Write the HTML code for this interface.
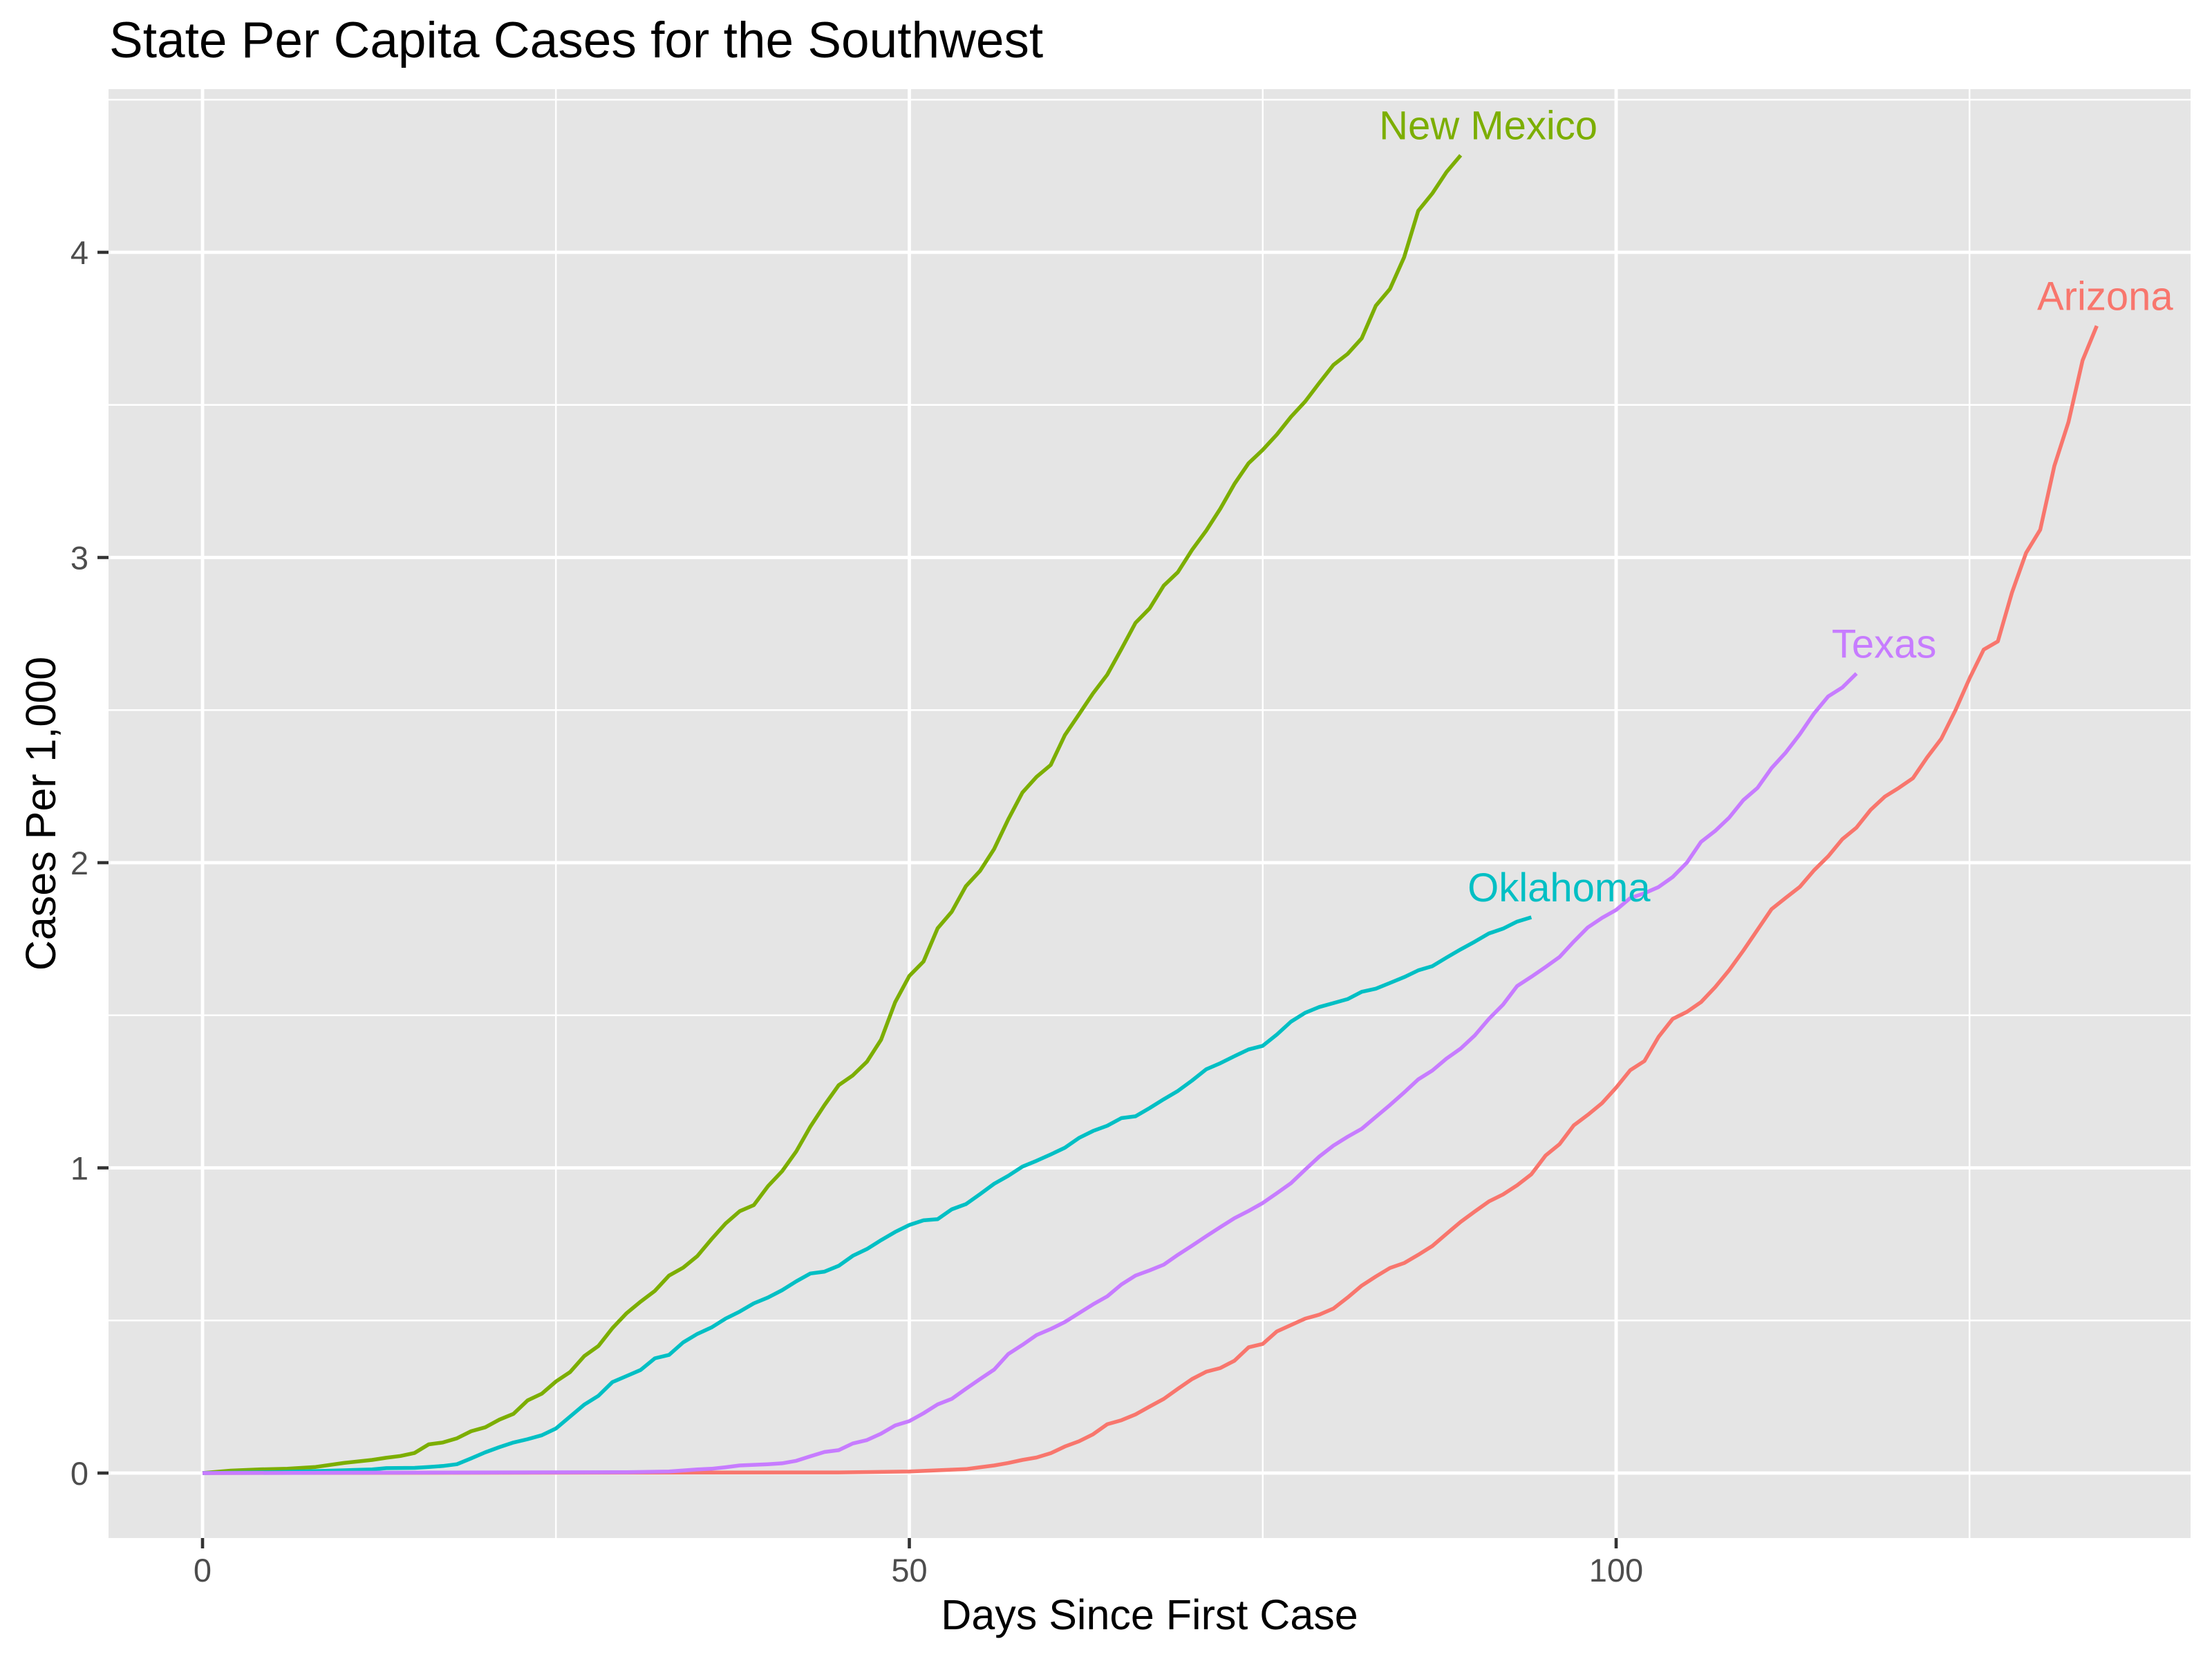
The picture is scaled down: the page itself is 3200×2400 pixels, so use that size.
<!DOCTYPE html>
<html>
<head>
<meta charset="utf-8">
<style>
  html, body { margin: 0; padding: 0; background: #ffffff; }
  body { width: 3200px; height: 2400px; overflow: hidden; }
  svg { display: block; font-family: "Liberation Sans", Arial, sans-serif; }
</style>
</head>
<body>
<svg id="chart" width="3200" height="2400" viewBox="0 0 3200 2400" xmlns="http://www.w3.org/2000/svg">
  <rect x="0" y="0" width="3200" height="2400" fill="#ffffff"/>
  <text x="158" y="83" font-size="73" fill="#000000">State Per Capita Cases for the Southwest</text>
  <rect x="157" y="129" width="3012" height="2096" fill="#e5e5e5"/>
  <g id="grid"></g>
  <g id="series"></g>
  <g id="labels"></g>
  <g id="axes"></g>
  <text x="1663" y="2357" font-size="61" text-anchor="middle" fill="#000000">Days Since First Case</text>
  <text x="0" y="0" font-size="61" text-anchor="middle" fill="#000000" transform="translate(80,1177) rotate(-90)">Cases Per 1,000</text>
</svg>
<script>
// ---- data ----
const xTicks = [0, 50, 100];
const xMinorTicks = [25, 75, 125];
const yTicks = [0, 1, 2, 3, 4];
const yMinorTicks = [0.5, 1.5, 2.5, 3.5, 4.5];
const seriesNames = ["Arizona", "New Mexico", "Oklahoma", "Texas"];

const azDays = [0,45,50,52,54,55,56,57,58,59,60,61,62,63,64,65,66,67,68,69,70,71,72,73,74,75,76,77,78,79,80,81,82,83,84,85,86,87,88,89,90,91,92,93,94,95,96,97,98,99,100,101,102,103,104,105,106,107,108,109,110,111,112,113,114,115,116,117,118,119,120,121,122,123,124,125,126,127,128,129,130,131,132,133,134];
const azVals = [0,0.002,0.005,0.009,0.013,0.019,0.025,0.033,0.043,0.051,0.065,0.087,0.104,0.127,0.16,0.173,0.192,0.218,0.243,0.276,0.308,0.332,0.344,0.368,0.412,0.423,0.464,0.485,0.506,0.519,0.539,0.575,0.614,0.644,0.672,0.688,0.715,0.744,0.784,0.823,0.857,0.89,0.913,0.943,0.979,1.04,1.078,1.139,1.174,1.212,1.263,1.32,1.35,1.429,1.488,1.511,1.543,1.592,1.648,1.712,1.78,1.848,1.885,1.921,1.975,2.021,2.077,2.115,2.173,2.216,2.245,2.277,2.345,2.406,2.499,2.604,2.698,2.725,2.885,3.015,3.091,3.30,3.444,3.646,3.759];

const nmDays = [0,2,4,6,8,10,12,13,14,15,16,17,18,19,20,21,22,23,24,25,26,27,28,29,30,31,32,33,34,35,36,37,38,39,40,41,42,43,44,45,46,47,48,49,50,51,52,53,54,55,56,57,58,59,60,61,62,63,64,65,66,67,68,69,70,71,72,73,74,75,76,77,78,79,80,81,82,83,84,85,86,87,88,89];
const nmVals = [0,0.008,0.012,0.014,0.02,0.033,0.043,0.05,0.056,0.066,0.094,0.10,0.114,0.137,0.15,0.175,0.194,0.238,0.26,0.30,0.331,0.383,0.416,0.475,0.524,0.562,0.597,0.647,0.673,0.711,0.766,0.818,0.858,0.878,0.94,0.989,1.054,1.135,1.206,1.271,1.303,1.348,1.42,1.543,1.629,1.676,1.785,1.839,1.923,1.973,2.045,2.142,2.23,2.281,2.32,2.418,2.486,2.555,2.616,2.70,2.786,2.833,2.908,2.952,3.025,3.088,3.16,3.241,3.309,3.353,3.403,3.461,3.511,3.572,3.631,3.667,3.718,3.825,3.88,3.984,4.136,4.193,4.263,4.318];

const okDays = [0,5,10,12,13,15,16,17,18,19,20,21,22,23,24,25,26,27,28,29,30,31,32,33,34,35,36,37,38,39,40,41,42,43,44,45,46,47,48,49,50,51,52,53,54,55,56,57,58,59,60,61,62,63,64,65,66,67,68,69,70,71,72,73,74,75,76,77,78,79,80,81,82,83,84,85,86,87,88,89,90,91,92,93,94];
const okVals = [0,0.003,0.009,0.012,0.016,0.017,0.02,0.023,0.029,0.048,0.068,0.085,0.10,0.111,0.124,0.146,0.185,0.224,0.253,0.298,0.318,0.338,0.376,0.387,0.428,0.456,0.477,0.506,0.529,0.556,0.575,0.599,0.628,0.654,0.66,0.679,0.712,0.734,0.763,0.79,0.813,0.828,0.832,0.864,0.881,0.914,0.948,0.974,1.004,1.023,1.044,1.066,1.098,1.121,1.138,1.163,1.169,1.196,1.225,1.252,1.286,1.323,1.343,1.366,1.388,1.40,1.437,1.479,1.508,1.527,1.54,1.553,1.577,1.587,1.606,1.625,1.647,1.661,1.689,1.716,1.741,1.768,1.784,1.807,1.821];

const txDays = [0,30,33,35,36,37,38,40,41,42,43,44,45,46,47,48,49,50,51,52,53,54,55,56,57,58,59,60,61,62,63,64,65,66,67,68,69,70,71,72,73,74,75,76,77,78,79,80,81,82,83,84,85,86,87,88,89,90,91,92,93,94,95,96,97,98,99,100,101,102,103,104,105,106,107,108,109,110,111,112,113,114,115,116,117];
const txVals = [0,0.003,0.005,0.012,0.014,0.019,0.025,0.029,0.032,0.04,0.055,0.069,0.075,0.097,0.108,0.129,0.156,0.17,0.196,0.225,0.243,0.276,0.308,0.339,0.39,0.42,0.452,0.472,0.495,0.524,0.553,0.579,0.618,0.647,0.664,0.683,0.715,0.745,0.776,0.806,0.835,0.859,0.885,0.917,0.95,0.994,1.037,1.073,1.102,1.128,1.167,1.206,1.247,1.29,1.319,1.358,1.391,1.434,1.488,1.535,1.596,1.626,1.658,1.691,1.741,1.788,1.819,1.845,1.884,1.90,1.92,1.953,2.0,2.068,2.104,2.148,2.205,2.245,2.31,2.361,2.421,2.489,2.545,2.574,2.62];

// ---- scales ----
const X0 = 293, PX_PER_DAY = 20.45;
const Y0 = 2131, PX_PER_UNIT = 441.5;
const PANEL = { left: 157, right: 3169, top: 129, bottom: 2225 };
function xScale(d) { return X0 + d * PX_PER_DAY; }
function yScale(v) { return Y0 - v * PX_PER_UNIT; }

const NS = "http://www.w3.org/2000/svg";
function mk(tag, attrs, parent) {
  const el = document.createElementNS(NS, tag);
  for (const k in attrs) el.setAttribute(k, attrs[k]);
  parent.appendChild(el);
  return el;
}

// ---- grid ----
const grid = document.getElementById("grid");
yMinorTicks.forEach(v => {
  const l = mk("line", { x1: PANEL.left, x2: PANEL.right, y1: yScale(v), y2: yScale(v), stroke: "#ffffff", "stroke-width": 2.4 }, grid);
  
  
});
xMinorTicks.forEach(d => {
  const l = mk("line", { x1: xScale(d), x2: xScale(d), y1: PANEL.top, y2: PANEL.bottom, stroke: "#ffffff", "stroke-width": 2.4 }, grid);
  
  
});
yTicks.forEach(v => {
  const l = mk("line", { x1: PANEL.left, x2: PANEL.right, y1: yScale(v), y2: yScale(v), stroke: "#ffffff", "stroke-width": 4.8 }, grid);
  
  
});
xTicks.forEach(d => {
  const l = mk("line", { x1: xScale(d), x2: xScale(d), y1: PANEL.top, y2: PANEL.bottom, stroke: "#ffffff", "stroke-width": 4.8 }, grid);
  
  
});

// ---- series ----
const seriesDays = [azDays, nmDays, okDays, txDays];
const seriesVals = [azVals, nmVals, okVals, txVals];
const seriesColors = ["#F8766D", "#7CAE00", "#00BFC4", "#C77CFF"];
const seriesKeys = ["arizona", "new-mexico", "oklahoma", "texas"];
const labelNudgeX = [12, 40, 40, 40];
const sg = document.getElementById("series");
seriesDays.forEach((days, i) => {
  const vals = seriesVals[i];
  const pts = days.map((d, j) => xScale(d).toFixed(1) + "," + yScale(vals[j]).toFixed(1)).join(" ");
  const pl = mk("polyline", { points: pts, fill: "none", stroke: seriesColors[i], "stroke-width": 5.5, "stroke-linejoin": "round", "stroke-linecap": "butt" }, sg);
  
  
});

// ---- end labels ----
const lg = document.getElementById("labels");
seriesDays.forEach((days, i) => {
  const vals = seriesVals[i];
  const lastD = days[days.length - 1], lastV = vals[vals.length - 1];
  const t = mk("text", { x: xScale(lastD) + labelNudgeX[i], y: yScale(lastV) - 23, "font-size": 58, "text-anchor": "middle", fill: seriesColors[i] }, lg);
  t.textContent = seriesNames[i];
  
  
});

// ---- axes ----
const ax = document.getElementById("axes");
yTicks.forEach(v => {
  const tk = mk("line", { x1: 141, x2: PANEL.left, y1: yScale(v), y2: yScale(v), stroke: "#333333", "stroke-width": 4.6 }, ax);
  
  
  const t = mk("text", { x: 128, y: yScale(v) + 17, "font-size": 47, "text-anchor": "end", fill: "#4d4d4d" }, ax);
  t.textContent = String(v);
  
  
});
xTicks.forEach(d => {
  const tk = mk("line", { x1: xScale(d), x2: xScale(d), y1: PANEL.bottom, y2: PANEL.bottom + 15, stroke: "#333333", "stroke-width": 4.6 }, ax);
  
  
  const t = mk("text", { x: xScale(d), y: 2288, "font-size": 47, "text-anchor": "middle", fill: "#4d4d4d" }, ax);
  t.textContent = String(d);
  
  
});
</script>
</body>
</html>
